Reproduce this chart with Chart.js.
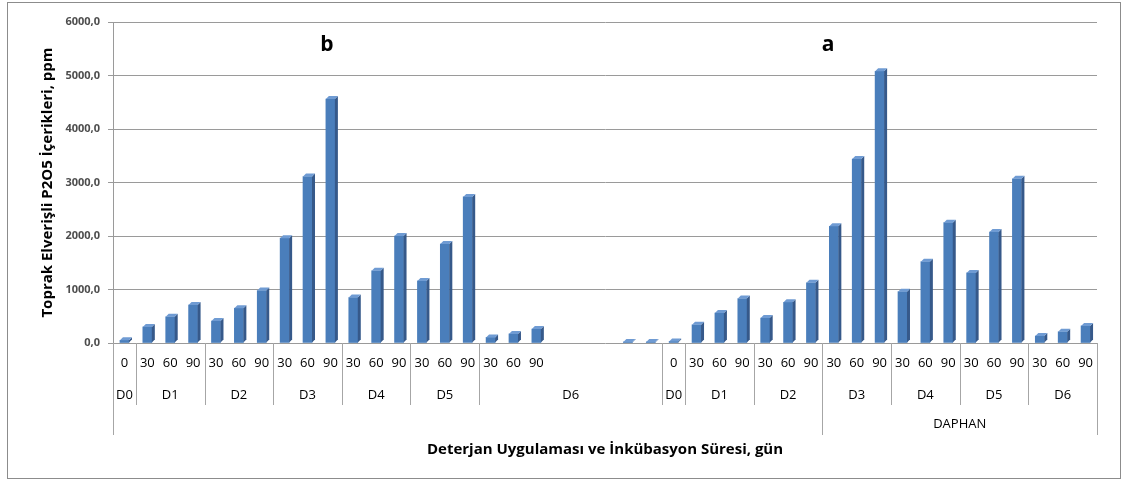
<!DOCTYPE html>
<html>
<head>
<meta charset="utf-8">
<script src="https://cdn.jsdelivr.net/npm/chart.js@4/dist/chart.umd.min.js"></script>
<style>
  html, body { margin: 0; padding: 0; background: #fff; }
  #wrap { position: relative; width: 1127px; height: 480px; }
  #frame { position: absolute; left: 7px; top: 2px; width: 1112px; height: 475px; border: 1px solid #8c8c8c; pointer-events: none; }
</style>
</head>
<body>
<div id="wrap">
  <canvas id="chart-bars" width="1127" height="480"></canvas>
  <div id="frame"></div>
</div>
<script>
// chart data

var days = [
    "0", "30", "60", "90", "30", "60", "90", "30", "60", "90",
    "30", "60", "90", "30", "60", "90", "30", "60", "90", "", "", "", "", "",
    "0", "30", "60", "90", "30", "60", "90", "30", "60", "90",
    "30", "60", "90", "30", "60", "90", "30", "60", "90"
];

var doses = [
    "D0", "D1", "D1", "D1", "D2", "D2", "D2", "D3", "D3", "D3",
    "D4", "D4", "D4", "D5", "D5", "D5", "D6", "D6", "D6", "D6", "D6", "D6", "D6", "D6",
    "D0", "D1", "D1", "D1", "D2", "D2", "D2", "D3", "D3", "D3",
    "D4", "D4", "D4", "D5", "D5", "D5", "D6", "D6", "D6"
];

var products = [
    "", "", "", "", "", "", "", "", "", "", "", "", "", "", "", "",
    "", "", "", "", "", "", "", "", "", "", "", "", "", "", "",
    "DAPHAN", "DAPHAN", "DAPHAN", "DAPHAN", "DAPHAN", "DAPHAN",
    "DAPHAN", "DAPHAN", "DAPHAN", "DAPHAN", "DAPHAN", "DAPHAN"
];

// b (first block)
var p2o5B = [50, 300, 490, 710, 410, 650, 980, 1960, 3110, 4560,
    850, 1350, 2000, 1160, 1850, 2730, 105, 170, 260, null, null, null, 20, 20];

// a (second block)
var p2o5A = [30, 340, 560, 830, 465, 760, 1125, 2180, 3440, 5080,
    960, 1520, 2250, 1310, 2075, 3070, 130, 210, 320];

var yTicks = [0, 1000, 2000, 3000, 4000, 5000, 6000];
var panelLetters = ["b", "a"];

// fake 3D side and top of each column
var columns3d = {
    id: "columns3d",
    afterDatasetsDraw: function (chart) {
        var ctx = chart.ctx;
        var d = 3;
        chart.getDatasetMeta(0).data.forEach(function (bar, i) {
            if (chart.data.datasets[0].data[i] == null) return;
            var p = bar.getProps(["x", "y", "base", "width"], true);
            var l = p.x - p.width / 2, r = p.x + p.width / 2;
            ctx.save();
            ctx.fillStyle = "#36598a";
            ctx.beginPath();
            ctx.moveTo(r, p.y);
            ctx.lineTo(r + d, p.y - d);
            ctx.lineTo(r + d, p.base - d);
            ctx.lineTo(r, p.base);
            ctx.closePath();
            ctx.fill();
            ctx.fillStyle = "#6f9bd3";
            ctx.beginPath();
            ctx.moveTo(l, p.y);
            ctx.lineTo(l + d, p.y - d);
            ctx.lineTo(r + d, p.y - d);
            ctx.lineTo(r, p.y);
            ctx.closePath();
            ctx.fill();
            ctx.restore();
        });
    }
};

// multi level category labels + panel letters
var groupLabels = {
    id: "groupLabels",
    afterDraw: function (chart) {
        var ctx = chart.ctx;
        var x = chart.scales.x;
        var bottom = chart.chartArea.bottom;
        var half = (x.getPixelForValue(1) - x.getPixelForValue(0)) / 2;

        function level(list, yText, yEnd) {
            var start = 0;
            for (var i = 1; i <= list.length; i++) {
                if (i === list.length || list[i] !== list[start]) {
                    var l = x.getPixelForValue(start) - half;
                    var r = x.getPixelForValue(i - 1) + half;
                    ctx.fillText(list[start], (l + r) / 2, yText);
                    ctx.beginPath();
                    ctx.moveTo(Math.round(l) + 0.5, bottom);
                    ctx.lineTo(Math.round(l) + 0.5, yEnd);
                    ctx.moveTo(Math.round(r) + 0.5, bottom);
                    ctx.lineTo(Math.round(r) + 0.5, yEnd);
                    ctx.stroke();
                    start = i;
                }
            }
        }

        ctx.save();
        ctx.font = "13px 'Open Sans'";
        ctx.fillStyle = "#000";
        ctx.strokeStyle = "#a6a6a6";
        ctx.lineWidth = 1;
        ctx.textAlign = "center";
        ctx.textBaseline = "middle";
        level(doses, 395, 405);
        level(products, 424, 435);

        ctx.font = "bold 21px 'Open Sans'";
        ctx.fillText(panelLetters[0], 327, 45);
        ctx.fillText(panelLetters[1], 828, 45);
        ctx.restore();
    }
};

var ctx1 = document.getElementById("chart-bars").getContext("2d");

new Chart(ctx1, {
    type: "bar",
    data: {
        labels: days,
        datasets: [{
            label: "P2O5",
            data: p2o5B.concat(p2o5A),
            backgroundColor: "#4a7ebb",
            borderWidth: 0,
            barThickness: 9
        }]
    },
    options: {
        responsive: false,
        animation: false,
        layout: {
            padding: { top: 22, right: 30, left: 0, bottom: 0 }
        },
        plugins: {
            legend: { display: false },
            tooltip: { enabled: false }
        },
        scales: {
            y: {
                min: 0,
                max: 6000,
                afterFit: function (s) { s.width = 113; },
                afterBuildTicks: function (s) {
                    s.ticks = yTicks.map(function (v) { return { value: v }; });
                },
                grid: {
                    color: "#9a9a9a",
                    tickLength: 5
                },
                border: { display: true, color: "#9a9a9a" },
                ticks: {
                    padding: 8,
                    color: "#4d4d4d",
                    font: { size: 11, family: "Open Sans", weight: "bold" },
                    callback: function (v) { return v.toFixed(1).replace(".", ","); }
                },
                title: {
                    display: true,
                    text: "Toprak Elverişli P2O5 İçerikleri, ppm",
                    color: "#000",
                    font: { size: 15, family: "Open Sans", weight: "bold" },
                    padding: { top: 39, bottom: 0 }
                }
            },
            x: {
                afterFit: function (s) { s.height = 137; },
                grid: { display: false, drawTicks: false },
                border: { display: false },
                ticks: {
                    autoSkip: false,
                    maxRotation: 0,
                    padding: 12,
                    color: "#000",
                    font: { size: 13, family: "Open Sans" }
                },
                title: {
                    display: true,
                    text: "Deterjan Uygulaması ve İnkübasyon Süresi, gün",
                    color: "#000",
                    font: { size: 15, family: "Open Sans", weight: "bold" },
                    padding: { top: 0, bottom: 21 }
                }
            }
        }
    },
    plugins: [columns3d, groupLabels]
});
</script>
</body>
</html>
